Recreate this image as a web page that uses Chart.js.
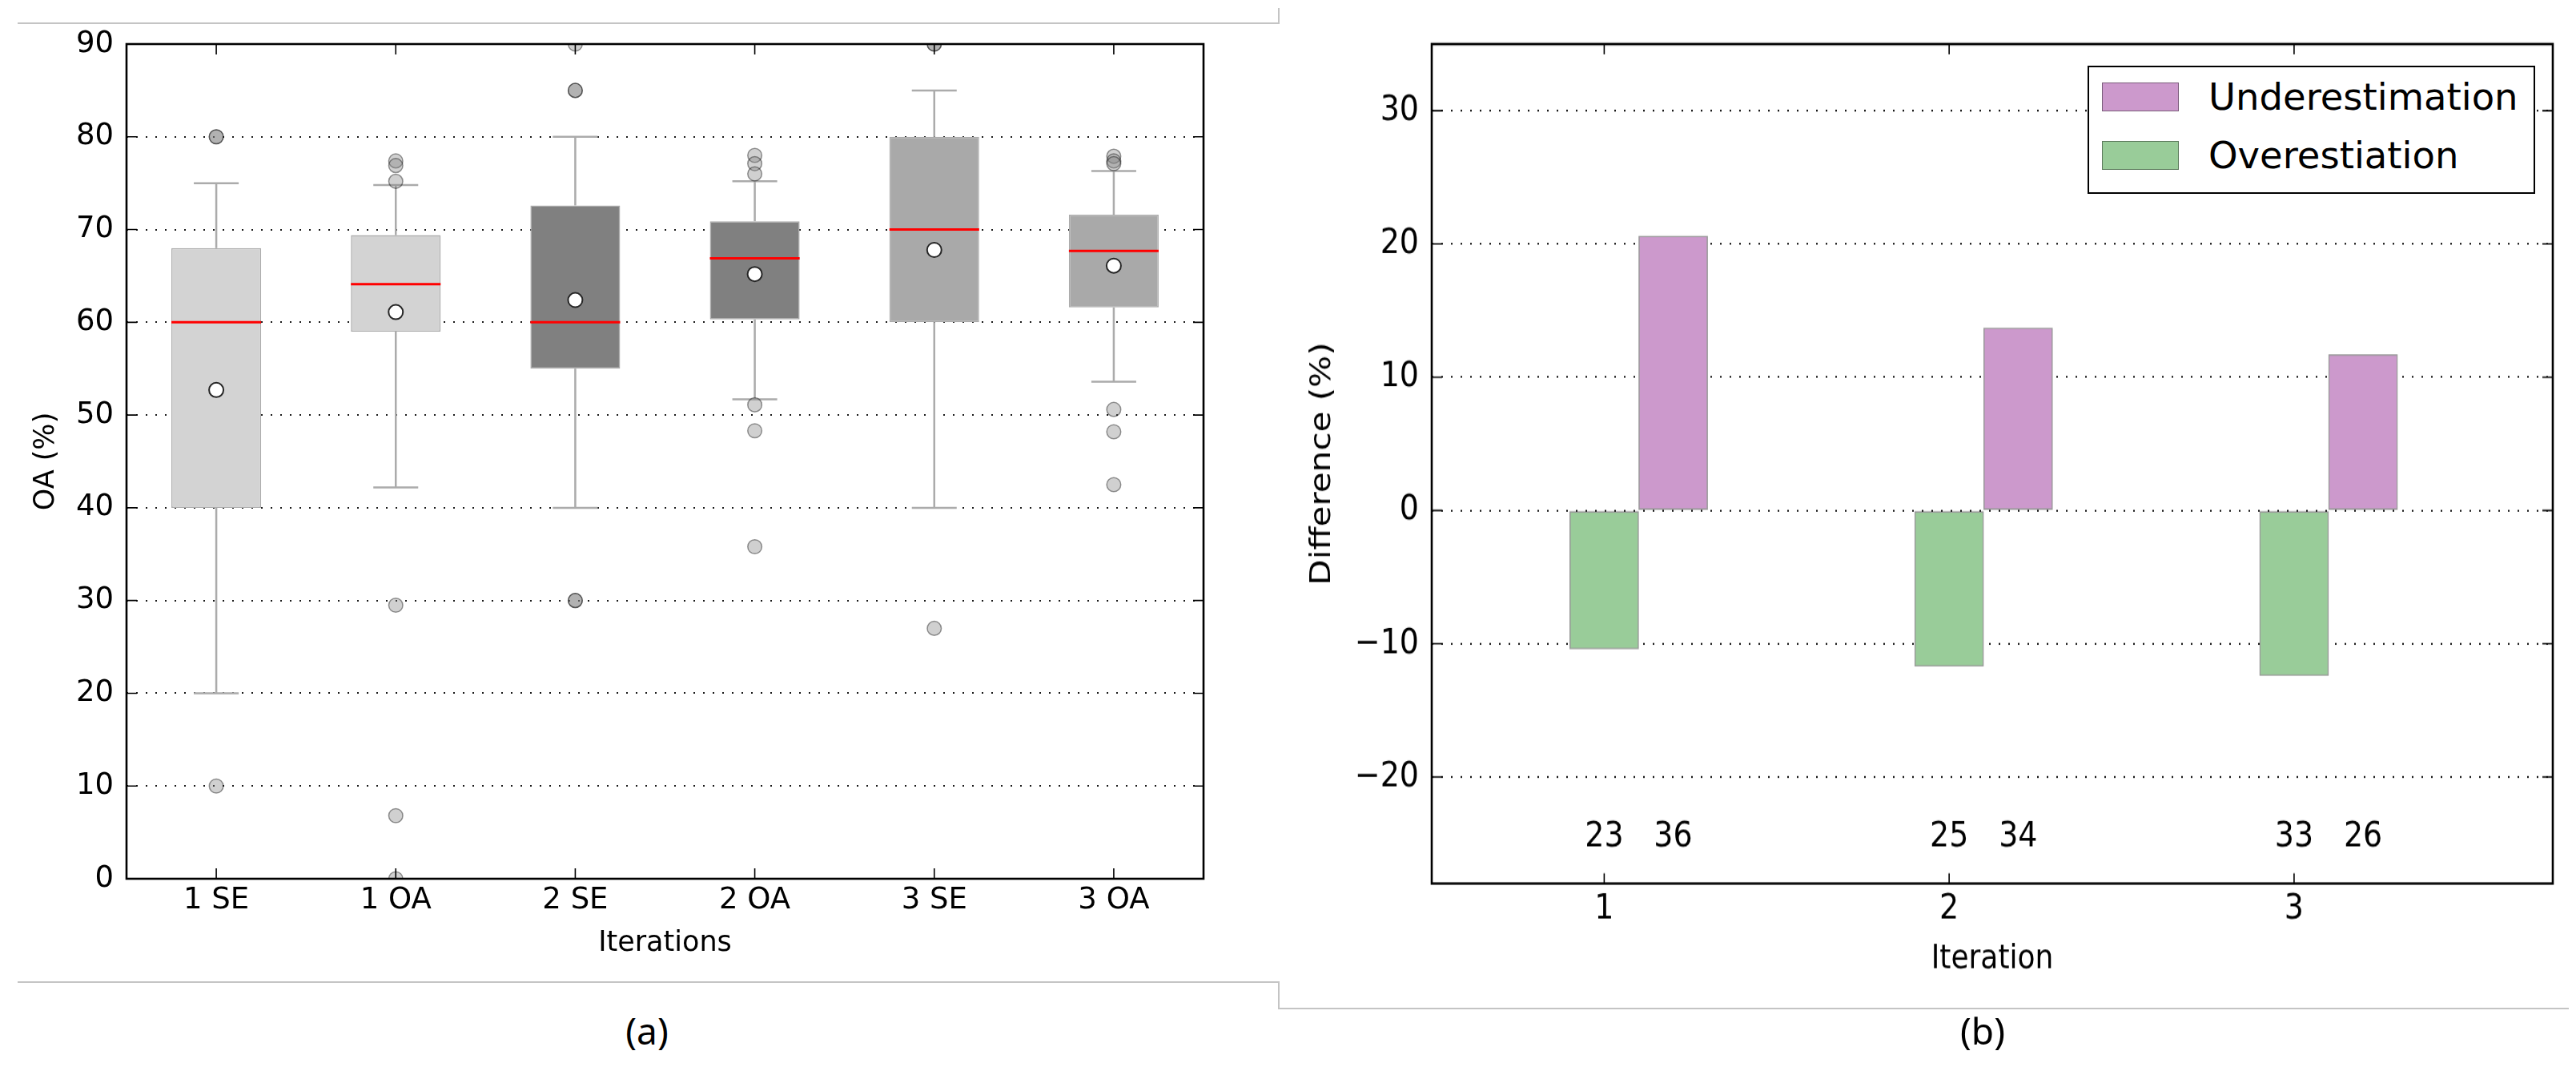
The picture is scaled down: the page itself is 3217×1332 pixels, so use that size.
<!DOCTYPE html>
<html>
<head>
<meta charset="utf-8">
<title>OA box plots and estimation differences</title>
<script src="https://cdn.jsdelivr.net/npm/chart.js@4.4.1/dist/chart.umd.min.js"></script>
<style>
    html, body { margin: 0; padding: 0; background: #fff; }
    body { position: relative; width: 3217px; height: 1332px; overflow: hidden; font-family: 'DejaVu Sans', sans-serif; }
    .rule { position: absolute; background: #c4c4c4; }
    .wrap { position: absolute; }
    #boxWrap { left: 0; top: 0; width: 1597px; height: 1226px; }
    #barWrap { left: 1597px; top: 0; width: 1620px; height: 1076px; transform: scaleY(1.17); transform-origin: 0 0; }
    .caption { position: absolute; font-family: 'Noto Sans', sans-serif; font-size: 46px; line-height: 1; transform: translate(-50%, -50%); color: #000; }
    #legend { position: absolute; left: 2607px; top: 82px; width: 559px; height: 160px; box-sizing: border-box; border: 2.5px solid #000; background: #fff; }
    .patch { position: absolute; left: 16px; width: 96px; height: 36px; box-sizing: border-box; border: 1.5px solid rgba(0, 0, 0, 0.4); }
    .entry { position: absolute; left: 149px; font-size: 46.5px; line-height: 1; transform: translateY(-50%); color: #000; white-space: nowrap; }
</style>
</head>
<body>

<div class="rule" style="left:22px; top:28px; width:1576px; height:2px;"></div>
<div class="rule" style="left:1596px; top:10px; width:2px; height:20px;"></div>
<div class="rule" style="left:22px; top:1225px; width:1576px; height:2px;"></div>
<div class="rule" style="left:1596px; top:1225px; width:2px; height:35px;"></div>
<div class="rule" style="left:1596px; top:1258px; width:1612px; height:2px;"></div>

<div class="wrap" id="boxWrap"><canvas id="boxChart" width="1597" height="1226"></canvas></div>
<div class="wrap" id="barWrap"><canvas id="barChart" width="1620" height="1076"></canvas></div>

<div id="legend">
    <div class="patch" style="top:18.5px; background:#cc99cc;"></div>
    <div class="entry" style="top:37px;">Underestimation</div>
    <div class="patch" style="top:91.5px; background:#99cc99;"></div>
    <div class="entry" style="top:110px;">Overestiation</div>
</div>

<div class="caption" style="left:808px; top:1286px;">(a)</div>
<div class="caption" style="left:2476px; top:1286px;">(b)</div>

<script>
// (a) 반복별 OA 상자그림 값
const boxLabels = ['1 SE', '1 OA', '2 SE', '2 OA', '3 SE', '3 OA'];
const q1 = [40, 59, 55, 60.3, 60, 61.6];
const q3 = [68, 69.4, 72.6, 70.9, 80, 71.6];
const medians = [60, 64.1, 60, 66.9, 70, 67.7];
const whiskerLow = [20, 42.2, 40, 51.7, 40, 53.6];
const whiskerHigh = [75, 74.8, 80, 75.2, 85, 76.3];
const means = [52.7, 61.1, 62.4, 65.2, 67.8, 66.1];
const outliers = [
    [80, 80, 10],
    [77.4, 76.9, 75.2, 29.5, 6.8, 0],
    [90, 85, 85, 30, 30],
    [78, 77.1, 76, 51.1, 48.3, 35.8],
    [90, 90, 27],
    [77.9, 77.4, 77.1, 50.6, 48.2, 42.5]
];
const oaTicks = [0, 10, 20, 30, 40, 50, 60, 70, 80, 90];

// (b) 반복별 과대/과소 추정 차이
const iterations = [1, 2, 3];
const underValues = [20.6, 13.7, 11.7];
const overValues = [-10.4, -11.7, -12.4];
const overCounts = [23, 25, 33];
const underCounts = [36, 34, 26];
const diffTicks = [-20, -10, 0, 10, 20, 30];
const countLabelY = -24.5;

// 스타일
const boxColors = ['#d3d3d3', '#d3d3d3', '#808080', '#808080', '#a9a9a9', '#a9a9a9'];
const capHalf = 0.125;
const medianHalf = 0.25;
const barOffset = 0.2;

Chart.defaults.font.family = "'DejaVu Sans', sans-serif";
Chart.defaults.color = '#000';

/**
 * 축 테두리와 안쪽 눈금 (matplotlib classic 스타일)
 */
const frameTicks = {
    id: 'frameTicks',
    afterDraw(chart, args, opts) {
        const { ctx, chartArea: a } = chart;
        const x = chart.scales.x;
        const y = chart.scales.y;
        ctx.save();
        ctx.strokeStyle = '#000';
        ctx.lineWidth = opts.tickWidth;
        ctx.beginPath();
        x.ticks.forEach(t => {
            const px = x.getPixelForValue(t.value);
            ctx.moveTo(px, a.top);
            ctx.lineTo(px, a.top + opts.xTickLen);
            ctx.moveTo(px, a.bottom);
            ctx.lineTo(px, a.bottom - opts.xTickLen);
        });
        y.ticks.forEach(t => {
            const py = y.getPixelForValue(t.value);
            ctx.moveTo(a.left, py);
            ctx.lineTo(a.left + opts.yTickLen, py);
            ctx.moveTo(a.right, py);
            ctx.lineTo(a.right - opts.yTickLen, py);
        });
        ctx.stroke();
        ctx.lineWidth = opts.frameWidth;
        ctx.strokeRect(a.left, a.top, a.right - a.left, a.bottom - a.top);
        ctx.restore();
    }
};

/**
 * 막대 아래 개수 표시
 */
const countLabels = {
    id: 'countLabels',
    afterDatasetsDraw(chart) {
        const { ctx } = chart;
        const x = chart.scales.x;
        const y = chart.scales.y;
        const py = y.getPixelForValue(countLabelY);
        ctx.save();
        ctx.font = "38px 'DejaVu Sans'";
        ctx.fillStyle = '#000';
        ctx.textAlign = 'center';
        ctx.textBaseline = 'middle';
        iterations.forEach((it, i) => {
            ctx.fillText(String(overCounts[i]), x.getPixelForValue(it), py);
            ctx.fillText(String(underCounts[i]), x.getPixelForValue(it + barOffset), py);
        });
        ctx.restore();
    }
};

/**
 * 선분 목록을 null 로 끊어진 점 배열로 변환
 */
function toSegments(list) {
    const pts = [];
    list.forEach(([x1, y1, x2, y2]) => {
        pts.push({ x: x1, y: y1 }, { x: x2, y: y2 }, { x: x2, y: null });
    });
    return pts;
}

function buildBoxChart() {
    const pos = boxLabels.map((_, i) => i + 1);

    const whiskerSegs = [];
    pos.forEach((p, i) => {
        whiskerSegs.push([p, q3[i], p, whiskerHigh[i]]);
        whiskerSegs.push([p - capHalf, whiskerHigh[i], p + capHalf, whiskerHigh[i]]);
        whiskerSegs.push([p, q1[i], p, whiskerLow[i]]);
        whiskerSegs.push([p - capHalf, whiskerLow[i], p + capHalf, whiskerLow[i]]);
    });
    const medianSegs = pos.map((p, i) => [p - medianHalf, medians[i], p + medianHalf, medians[i]]);

    const outlierPts = [];
    outliers.forEach((list, i) => list.forEach(v => outlierPts.push({ x: pos[i], y: v })));

    new Chart(document.getElementById('boxChart'), {
        type: 'bar',
        data: {
            datasets: [
                {
                    type: 'line',
                    label: 'mean',
                    data: pos.map((p, i) => ({ x: p, y: means[i] })),
                    showLine: false,
                    pointRadius: 9,
                    pointBackgroundColor: '#ffffff',
                    pointBorderColor: '#262626',
                    pointBorderWidth: 2,
                    order: 0
                },
                {
                    type: 'line',
                    label: 'outliers',
                    data: outlierPts,
                    showLine: false,
                    pointRadius: 8.8,
                    pointBackgroundColor: 'rgba(128, 128, 128, 0.37)',
                    pointBorderColor: 'rgba(0, 0, 0, 0.4)',
                    pointBorderWidth: 1.5,
                    clip: 0,
                    order: 1
                },
                {
                    type: 'line',
                    label: 'median',
                    data: toSegments(medianSegs),
                    borderColor: '#ff0000',
                    borderWidth: 3,
                    pointRadius: 0,
                    spanGaps: false,
                    order: 2
                },
                {
                    type: 'line',
                    label: 'whiskers',
                    data: toSegments(whiskerSegs),
                    borderColor: '#ababab',
                    borderWidth: 2.5,
                    pointRadius: 0,
                    spanGaps: false,
                    order: 3
                },
                {
                    type: 'bar',
                    label: 'box',
                    data: pos.map((p, i) => ({ x: p, y: [q1[i], q3[i]] })),
                    backgroundColor: boxColors,
                    borderColor: '#ababab',
                    borderWidth: 1.5,
                    borderSkipped: false,
                    grouped: false,
                    barPercentage: 0.5,
                    categoryPercentage: 1,
                    order: 4
                }
            ]
        },
        options: {
            responsive: false,
            animation: false,
            events: [],
            layout: { padding: { top: 55, right: 94, left: 0, bottom: 0 } },
            plugins: {
                legend: { display: false },
                tooltip: { enabled: false },
                frameTicks: { tickWidth: 1.6, xTickLen: 13, yTickLen: 13, frameWidth: 2.6 }
            },
            scales: {
                x: {
                    type: 'linear',
                    min: 0.5,
                    max: 6.5,
                    offset: false,
                    afterBuildTicks: s => { s.ticks = pos.map(v => ({ value: v })); },
                    afterFit: s => { s.height = 129; },
                    grid: { display: false, drawTicks: false },
                    border: { display: false },
                    ticks: {
                        autoSkip: false,
                        maxRotation: 0,
                        padding: 5,
                        font: { size: 37 },
                        callback: v => boxLabels[v - 1]
                    },
                    title: {
                        display: true,
                        text: 'Iterations',
                        font: { size: 35 },
                        padding: { top: 0, bottom: 27 }
                    }
                },
                y: {
                    min: 0,
                    max: 90,
                    z: 1,
                    afterBuildTicks: s => { s.ticks = oaTicks.map(v => ({ value: v })); },
                    afterFit: s => { s.width = 158; },
                    grid: { color: '#1a1a1a', lineWidth: 2, drawTicks: false },
                    border: { display: false, dash: [2, 10] },
                    ticks: { padding: 16, font: { size: 37 } },
                    title: {
                        display: true,
                        text: 'OA (%)',
                        font: { size: 35 },
                        padding: { top: 37, bottom: 0 }
                    }
                }
            }
        },
        plugins: [frameTicks]
    });
}

function buildBarChart() {
    new Chart(document.getElementById('barChart'), {
        type: 'bar',
        data: {
            datasets: [
                {
                    label: 'Underestimation',
                    data: iterations.map((it, i) => ({ x: it + barOffset, y: underValues[i] })),
                    backgroundColor: '#cc99cc',
                    borderColor: 'rgba(0, 0, 0, 0.4)',
                    borderWidth: 1.6,
                    borderSkipped: false,
                    grouped: false,
                    barPercentage: 1,
                    categoryPercentage: 1
                },
                {
                    label: 'Overestiation',
                    data: iterations.map((it, i) => ({ x: it, y: overValues[i] })),
                    backgroundColor: '#99cc99',
                    borderColor: 'rgba(0, 0, 0, 0.4)',
                    borderWidth: 1.6,
                    borderSkipped: false,
                    grouped: false,
                    barPercentage: 1,
                    categoryPercentage: 1
                }
            ]
        },
        options: {
            responsive: false,
            animation: false,
            events: [],
            layout: { padding: { top: 47, right: 29, left: 0, bottom: 0 } },
            plugins: {
                legend: { display: false },
                tooltip: { enabled: false },
                frameTicks: { tickWidth: 1.6, xTickLen: 11, yTickLen: 13, frameWidth: 2.6 }
            },
            scales: {
                x: {
                    type: 'linear',
                    min: 0.5,
                    max: 3.75,
                    offset: false,
                    afterBuildTicks: s => { s.ticks = iterations.map(v => ({ value: v })); },
                    afterFit: s => { s.height = 133.3; },
                    grid: { display: false, drawTicks: false },
                    border: { display: false },
                    ticks: {
                        autoSkip: false,
                        maxRotation: 0,
                        padding: 5,
                        font: { size: 38 },
                        callback: v => String(v)
                    },
                    title: {
                        display: true,
                        text: 'Iteration',
                        font: { size: 36 },
                        padding: { top: 0, bottom: 31 }
                    }
                },
                y: {
                    min: -28,
                    max: 35,
                    z: 1,
                    afterBuildTicks: s => { s.ticks = diffTicks.map(v => ({ value: v })); },
                    afterFit: s => { s.width = 191; },
                    grid: { color: '#1a1a1a', lineWidth: 2, drawTicks: false },
                    border: { display: false, dash: [2, 10] },
                    ticks: {
                        padding: 16,
                        font: { size: 38 },
                        callback: v => (v < 0 ? '\u2212' + Math.abs(v) : String(v))
                    },
                    title: {
                        display: true,
                        text: 'Difference (%)',
                        font: { size: 36 },
                        padding: { top: 33, bottom: 0 }
                    }
                }
            }
        },
        plugins: [frameTicks, countLabels]
    });
}

function init() {
    buildBoxChart();
    buildBarChart();
}

document.addEventListener('DOMContentLoaded', init);
</script>
</body>
</html>
